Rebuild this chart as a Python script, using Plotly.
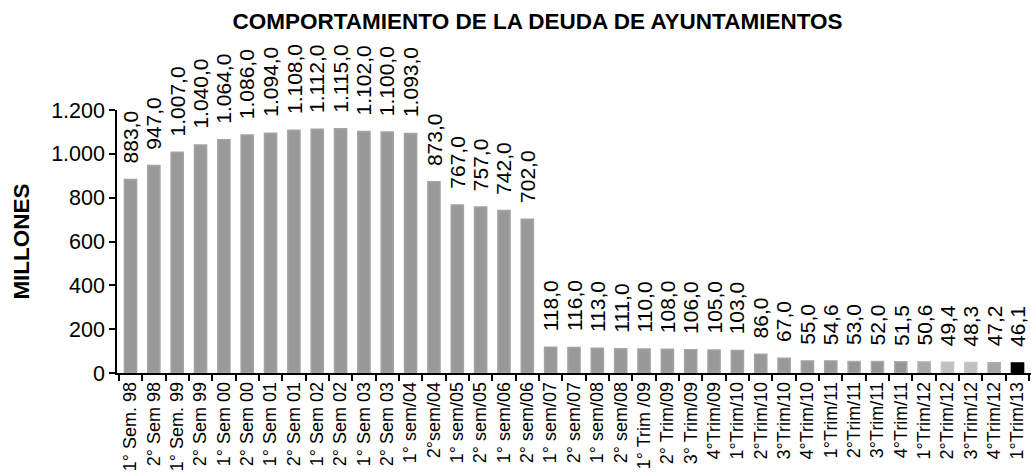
import plotly.graph_objects as go

categories = [
    "1° Sem. 98", "2° Sem 98", "1° Sem. 99", "2° Sem 99", "1° Sem 00", "2° Sem 00",
    "1° Sem 01", "2° Sem 01", "1° Sem 02", "2° Sem 02", "1° Sem 03", "2° Sem 03",
    "1° sem/04", "2°sem/04", "1° sem/05", "2° sem/05", "1° sem/06", "2° sem/06",
    "1° sem/07", "2° sem/07", "1° sem/08", "2° sem/08",
    "1° Trim /09", "2° Trim/09", "3° Trim/09", "4°Trim/09",
    "1°Trim/10", "2°Trim/10", "3°Trim/10", "4°Trim/10",
    "1°Trim/11", "2°Trim/11", "3°Trim/11", "4°Trim/11",
    "1°Trim/12", "2°Trim/12", "3°Trim/12", "4°Trim/12",
    "1°Trim/13",
]

deuda = [
    883.0, 947.0, 1007.0, 1040.0, 1064.0, 1086.0,
    1094.0, 1108.0, 1112.0, 1115.0, 1102.0, 1100.0,
    1093.0, 873.0, 767.0, 757.0, 742.0, 702.0,
    118.0, 116.0, 113.0, 111.0,
    110.0, 108.0, 106.0, 105.0,
    103.0, 86.0, 67.0, 55.0,
    54.6, 53.0, 52.0, 51.5,
    50.6, 49.4, 48.3, 47.2,
    46.1,
]

y_ticks = [0, 200, 400, 600, 800, 1000, 1200]

# styles
fill = ["#999999"] * 31 + ["#959595"] * 3 + ["#a9a9a9", "#c0c0c0", "#c0c0c0", "#a6a6a6", "#000000"]
edge = ["#a3a3a3"] * 31 + ["#acacac"] * 3 + ["#b0b0b0", "#c6c6c6", "#c6c6c6", "#adadad", "#000000"]


def fmt(v):
    s = f"{v:,.1f}"
    return s.replace(",", "X").replace(".", ",").replace("X", ".")


labels = [fmt(v) for v in deuda]

FONT = "Liberation Sans, Arial, sans-serif"

fig = go.Figure()
fig.add_trace(go.Bar(
    x=categories,
    y=deuda,
    marker=dict(color=fill, line=dict(color=edge, width=1.5)),
    hoverinfo="x+y",
))

for c, v, t in zip(categories, deuda, labels):
    fig.add_annotation(
        x=c, y=v, text=t, textangle=-90, showarrow=False,
        xref="x", yref="y", yanchor="bottom", xanchor="center",
        yshift=14, font=dict(family=FONT, size=21, color="#000000"),
    )

fig.update_layout(
    width=1031, height=472,
    margin=dict(l=117, r=0, t=110, b=99, autoexpand=False),
    paper_bgcolor="white", plot_bgcolor="white",
    bargap=0.48,
    separators=",.",
    showlegend=False,
    font=dict(family=FONT, color="#000000"),
    title=dict(
        text="<b>COMPORTAMIENTO DE LA DEUDA DE AYUNTAMIENTOS</b>",
        x=537.5 / 1031, xanchor="center", xref="container",
        y=1 - 21 / 472, yanchor="middle", yref="container",
        font=dict(family=FONT, size=22.5, color="#000000"),
    ),
)

fig.update_xaxes(
    type="category",
    showline=True, linecolor="#000000", linewidth=1.5,
    ticks="outside", tickson="boundaries", ticklen=6, tickcolor="#000000", tickwidth=1.5,
    tickangle=-90, tickfont=dict(family=FONT, size=18, color="#000000"),
    showgrid=False, automargin=False,
)

fig.update_yaxes(
    range=[0, 1200],
    tickvals=y_ticks,
    tickformat=",d", separatethousands=True,
    showline=True, linecolor="#000000", linewidth=1.5,
    ticks="outside", ticklen=6, tickcolor="#000000", tickwidth=1.5,
    tickfont=dict(family=FONT, size=21.5, color="#000000"),
    showgrid=False, zeroline=False, automargin=False,
    title=dict(text="<b>MILLONES</b>", standoff=15,
               font=dict(family=FONT, size=22.5, color="#000000")),
)

fig.write_html(
    "out.html",
    config={"displayModeBar": False},
    post_script="document.body.style.margin='0';document.body.style.padding='0';document.body.style.overflow='hidden';",
)
